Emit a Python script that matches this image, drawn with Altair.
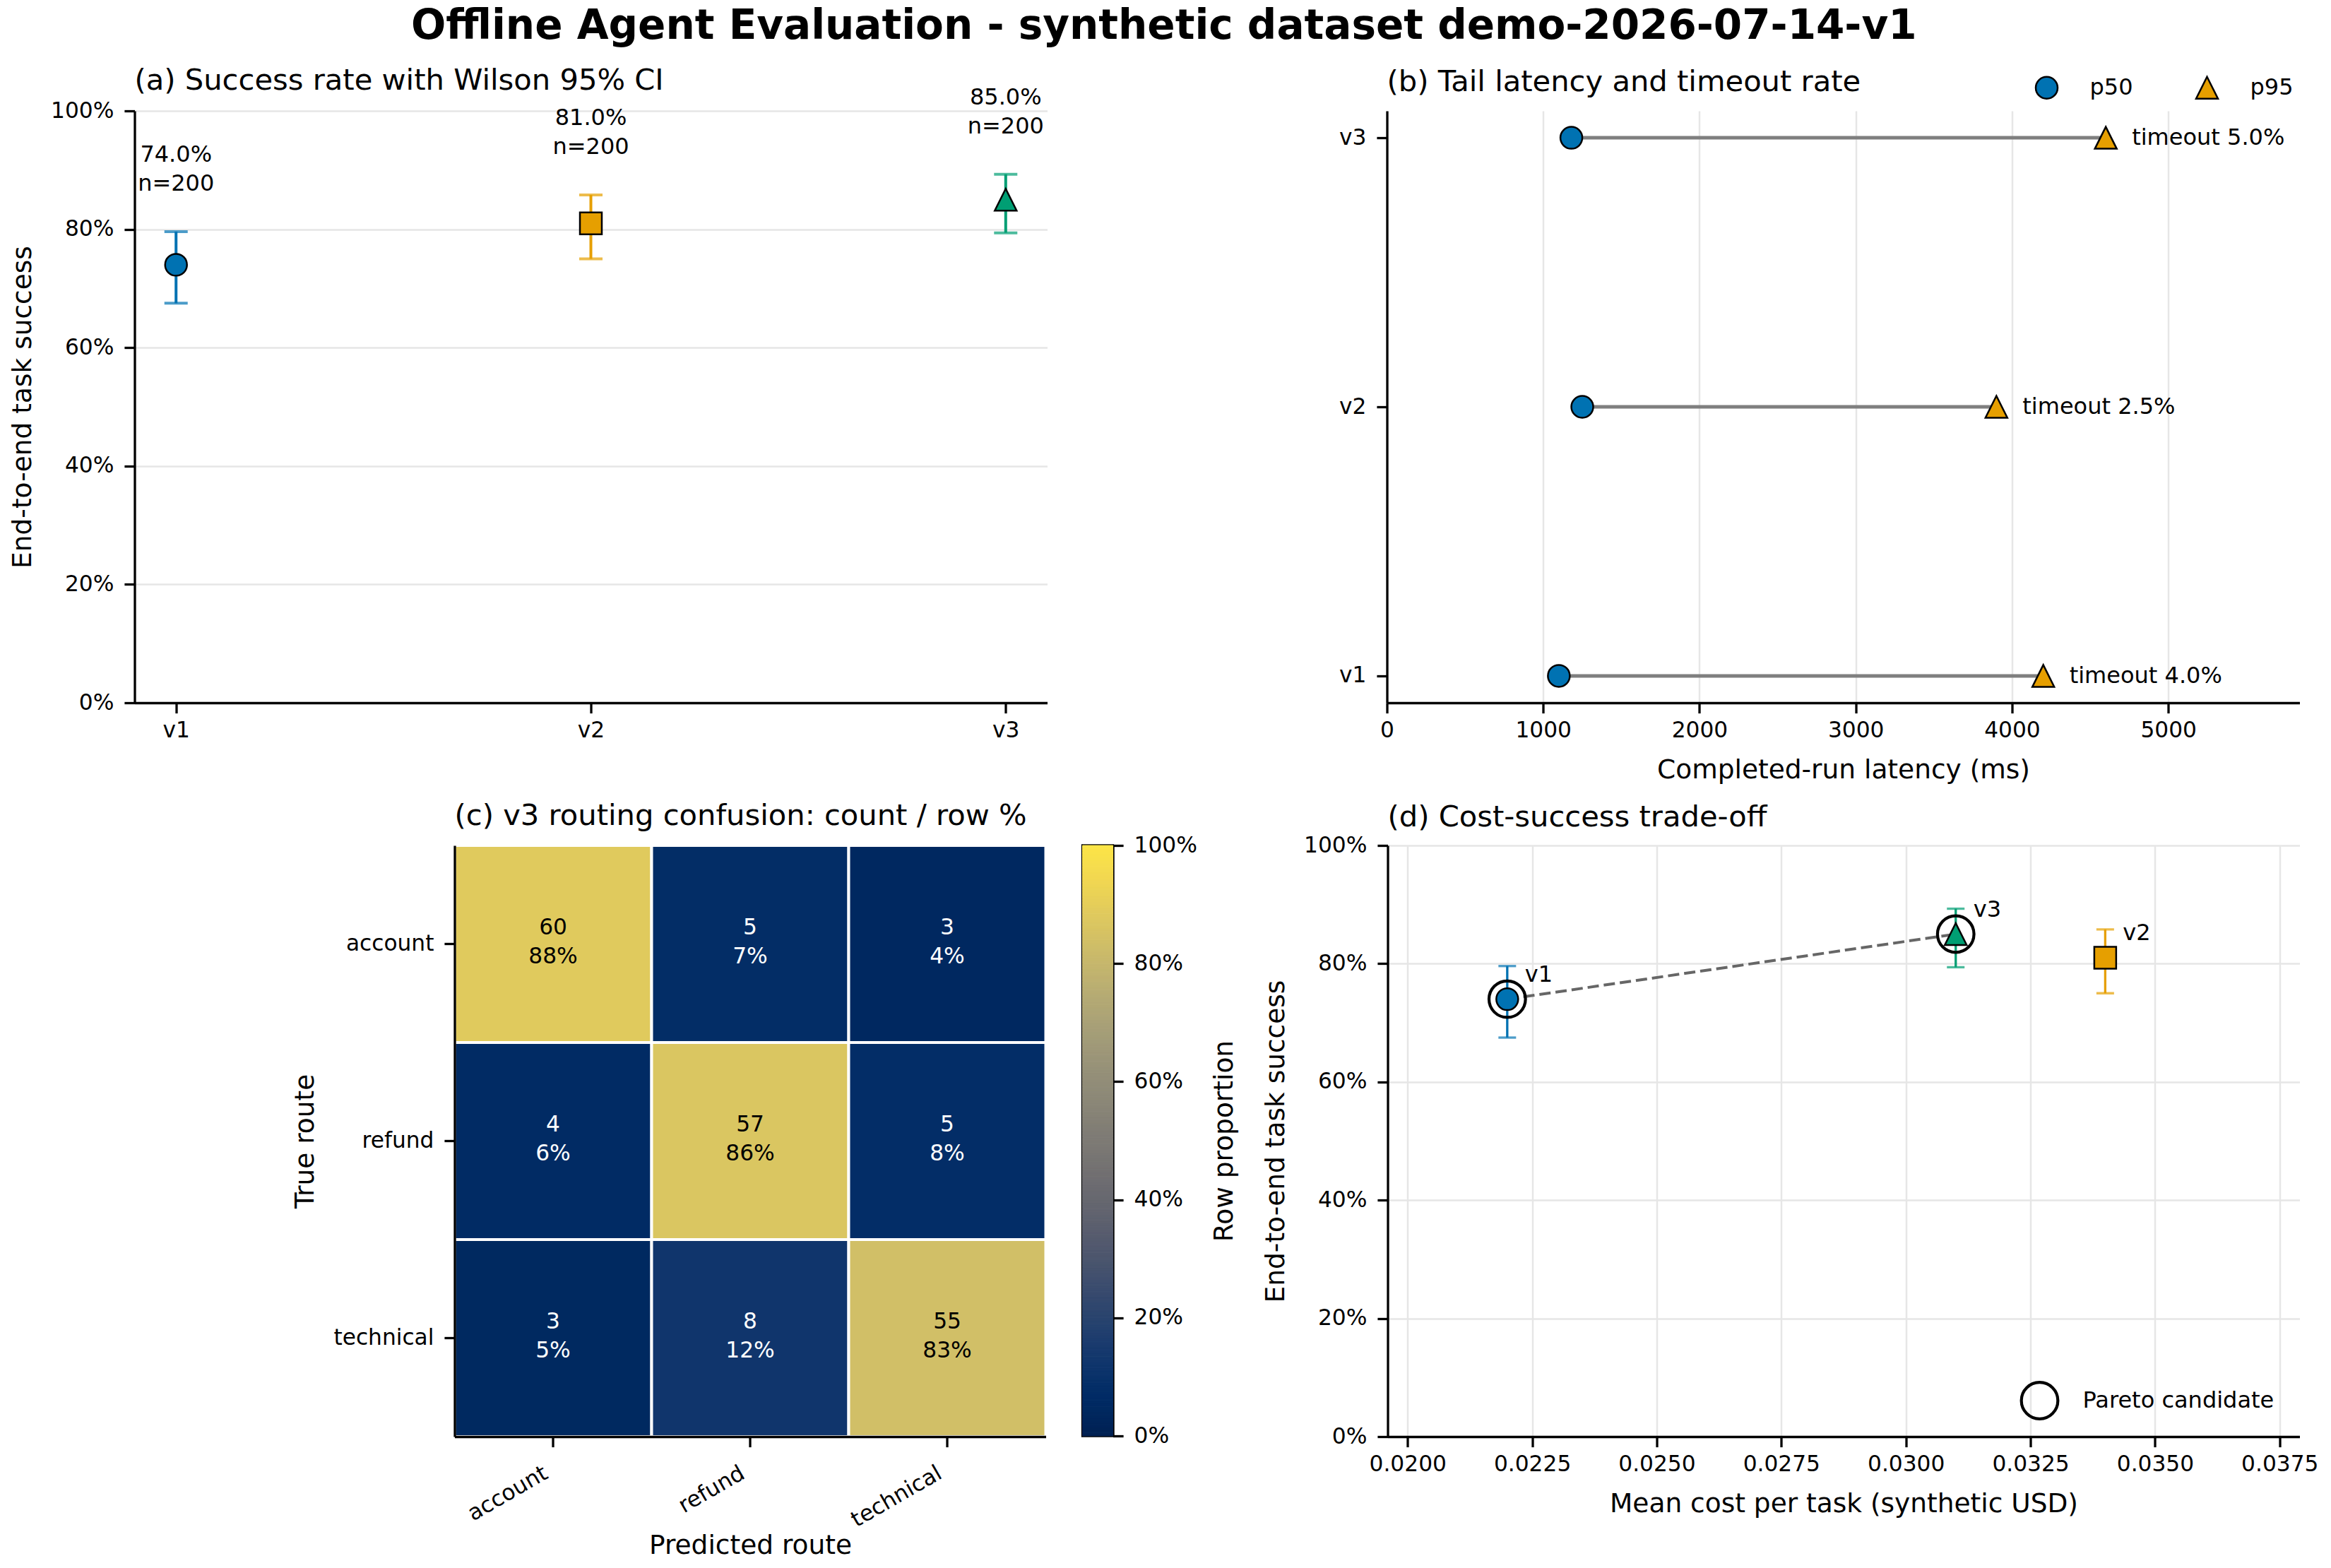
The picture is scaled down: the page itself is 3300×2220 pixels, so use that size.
import altair as alt
import pandas as pd

# ---------------- evaluation numbers ----------------
versions = ["v1", "v2", "v3"]
success_rate = [0.74, 0.81, 0.85]
n_tasks = [200, 200, 200]
wilson_low = [0.675, 0.750, 0.794]
wilson_high = [0.796, 0.858, 0.893]

latency_p50_ms = [1100, 1250, 1180]
latency_p95_ms = [4200, 3900, 4600]
timeout_rate = [0.040, 0.025, 0.050]

mean_cost_usd = [0.022, 0.034, 0.031]
pareto_candidate = [True, False, True]

routes = ["account", "refund", "technical"]
v3_confusion = [
    [60, 5, 3],
    [4, 57, 5],
    [3, 8, 55],
]

pct_ticks = [0, 0.2, 0.4, 0.6, 0.8, 1.0]
latency_ticks = [0, 1000, 2000, 3000, 4000, 5000]
cost_ticks = [0.0200, 0.0225, 0.0250, 0.0275, 0.0300, 0.0325, 0.0350, 0.0375]

# ---------------- styling ----------------
FONT = "DejaVu Sans"
TICK_PX = 31.25
ANNOT_PX = 32
AXIS_TITLE_PX = 37.5
PANEL_TITLE_PX = 41.67
SUPTITLE_PX = 58
VERSION_COLORS = ["#0072B2", "#E69F00", "#009E73"]
TRIANGLE = "M0,-1L1,1L-1,1Z"
VERSION_SHAPES = ["circle", "square", TRIANGLE]
MARKER_SIZE = 960
EDGE_W = 2.5
GRID = "#e6e6e6"
X_LABEL_PAD = 9
X_TITLE_PAD = 22

PANEL_W, PANEL_H = 1292, 838
HEAT_SIDE = 837
D_W = 1291


def panel_title(text, offset):
    return alt.TitleParams(text=text, anchor="start", frame="group", fontSize=PANEL_TITLE_PX,
                           fontWeight="normal", font=FONT, color="black", offset=offset)


def success_y(field):
    return alt.Y(f"{field}:Q", scale=alt.Scale(domain=[0, 1], nice=False),
                 axis=alt.Axis(values=pct_ticks, format=".0%", title="End-to-end task success",
                               grid=True, gridColor=GRID))


version_color = alt.Color("version:N", scale=alt.Scale(domain=versions, range=VERSION_COLORS), legend=None)
version_shape = alt.Shape("version:N", scale=alt.Scale(domain=versions, range=VERSION_SHAPES), legend=None)

runs = pd.DataFrame({
    "version": versions,
    "success": success_rate,
    "n": n_tasks,
    "wilson_low": wilson_low,
    "wilson_high": wilson_high,
    "cost": mean_cost_usd,
    "pareto": pareto_candidate,
})
runs["annotation"] = [f"{s:.1%}\nn={n}" for s, n in zip(success_rate, n_tasks)]

# ---------------- (a) success rate with Wilson interval ----------------
version_x = alt.X("version:N", scale=alt.Scale(type="point", domain=versions, padding=0.1),
                  axis=alt.Axis(title=None, labelAngle=0, grid=False, labelPadding=X_LABEL_PAD))
base_a = alt.Chart(runs)
a_whisker = base_a.mark_rule(strokeWidth=4).encode(
    x=version_x, y=success_y("wilson_low"), y2="wilson_high:Q", color=version_color)
a_cap_lo = base_a.mark_tick(orient="horizontal", size=33, thickness=4).encode(
    x=version_x, y=success_y("wilson_low"), color=version_color)
a_cap_hi = base_a.mark_tick(orient="horizontal", size=33, thickness=4).encode(
    x=version_x, y=success_y("wilson_high"), color=version_color)
a_point = base_a.mark_point(filled=True, size=MARKER_SIZE, stroke="black", strokeWidth=EDGE_W, opacity=1).encode(
    x=version_x, y=success_y("success"), color=version_color, shape=version_shape)
a_text = base_a.mark_text(lineBreak="\n", fontSize=ANNOT_PX, lineHeight=41, baseline="bottom",
                          dy=-92, color="black").encode(
    x=version_x, y=success_y("wilson_high"), text="annotation:N")
panel_a = alt.layer(a_whisker, a_cap_lo, a_cap_hi, a_point, a_text).properties(
    width=PANEL_W, height=PANEL_H,
    title=panel_title("(a) Success rate with Wilson 95% CI", -14))

# ---------------- (b) latency dumbbells ----------------
latency = pd.DataFrame({
    "version": versions,
    "p50": latency_p50_ms,
    "p95": latency_p95_ms,
    "timeout": timeout_rate,
})
latency["timeout_label"] = [f"timeout {t:.1%}" for t in timeout_rate]
latency_long = pd.DataFrame({
    "version": versions * 2,
    "stat": ["p50"] * len(versions) + ["p95"] * len(versions),
    "ms": latency_p50_ms + latency_p95_ms,
})


def latency_x(field):
    return alt.X(f"{field}:Q", scale=alt.Scale(domain=[0, 5840], nice=False),
                 axis=alt.Axis(values=latency_ticks, format="d", title="Completed-run latency (ms)",
                               grid=True, gridColor=GRID, labelFlush=False,
                               labelPadding=X_LABEL_PAD, titlePadding=X_TITLE_PAD))


version_y = alt.Y("version:N", scale=alt.Scale(type="point", domain=versions[::-1], padding=0.1),
                  axis=alt.Axis(title=None, grid=False))
stat_legend = alt.Legend(title=None, orient="none", legendX=917, legendY=-50, direction="horizontal",
                         symbolSize=MARKER_SIZE, symbolStrokeColor="black", symbolStrokeWidth=EDGE_W,
                         labelFontSize=ANNOT_PX, labelOffset=44, columnPadding=83, padding=0)
b_rule = alt.Chart(latency).mark_rule(color="#7f7f7f", strokeWidth=5).encode(
    y=version_y, x=latency_x("p50"), x2="p95:Q")
b_points = alt.Chart(latency_long).mark_point(filled=True, size=MARKER_SIZE, stroke="black",
                                              strokeWidth=EDGE_W, opacity=1).encode(
    y=version_y, x=latency_x("ms"),
    color=alt.Color("stat:N", scale=alt.Scale(domain=["p50", "p95"], range=[VERSION_COLORS[0], VERSION_COLORS[1]]),
                    legend=stat_legend),
    shape=alt.Shape("stat:N", scale=alt.Scale(domain=["p50", "p95"], range=["circle", TRIANGLE]),
                    legend=stat_legend))
b_text = alt.Chart(latency).mark_text(align="left", baseline="middle", dx=37, fontSize=ANNOT_PX,
                                      color="black").encode(
    y=version_y, x=latency_x("p95"), text="timeout_label:N")
panel_b = alt.layer(b_rule, b_points, b_text).properties(
    width=PANEL_W, height=PANEL_H,
    title=panel_title("(b) Tail latency and timeout rate", -31))

# ---------------- (c) routing confusion matrix for v3 ----------------
cells = []
for i, true_route in enumerate(routes):
    row_total = sum(v3_confusion[i])
    for j, pred_route in enumerate(routes):
        count = v3_confusion[i][j]
        share = count / row_total
        cells.append({"true": true_route, "pred": pred_route, "count": count,
                      "share": share, "label": f"{count}\n{share:.0%}"})
confusion = pd.DataFrame(cells)

pred_x = alt.X("pred:N", scale=alt.Scale(domain=routes, paddingInner=0, paddingOuter=0),
               axis=alt.Axis(title="Predicted route", labelAngle=-30, labelAlign="right",
                             labelBaseline="top", labelOffset=-18, labelPadding=21,
                             grid=False, titlePadding=2))
true_y = alt.Y("true:N", scale=alt.Scale(domain=routes, paddingInner=0, paddingOuter=0),
               axis=alt.Axis(title="True route", grid=False))
c_rect = alt.Chart(confusion).mark_rect(stroke="white", strokeWidth=4).encode(
    x=pred_x, y=true_y,
    color=alt.Color("share:Q", scale=alt.Scale(scheme="cividis", domain=[0, 1]), legend=None))
c_text = alt.Chart(confusion).mark_text(lineBreak="\n", fontSize=TICK_PX, lineHeight=41,
                                        baseline="middle", dy=-23).encode(
    x=pred_x, y=true_y, text="label:N",
    color=alt.condition("datum.share < 0.5", alt.value("white"), alt.value("black")))
panel_c = alt.layer(c_rect, c_text).properties(
    width=HEAT_SIDE, height=HEAT_SIDE,
    title=panel_title("(c) v3 routing confusion: count / row %", 18))

# colour bar for the row proportion
colorbar = alt.Chart(alt.sequence(0, 1, 0.005, as_="v")).transform_calculate(
    v_top="datum.v + 0.005").mark_rect(strokeWidth=1).encode(
    x=alt.value(0), x2=alt.value("width"),
    y=alt.Y("v:Q", scale=alt.Scale(domain=[0, 1], nice=False),
            axis=alt.Axis(orient="right", values=pct_ticks, format=".0%", title="Row proportion",
                          titleAngle=270, titleBaseline="top", grid=False)),
    y2="v_top:Q",
    color=alt.Color("v:Q", scale=alt.Scale(scheme="cividis", domain=[0, 1]), legend=None),
    stroke=alt.Stroke("v:Q", scale=alt.Scale(scheme="cividis", domain=[0, 1]), legend=None),
).properties(width=43, height=836, view=alt.ViewBackground(stroke="black", strokeWidth=3.3))

# ---------------- (d) cost vs success ----------------
cost_x = alt.X("cost:Q", scale=alt.Scale(domain=[0.0196, 0.0379], nice=False, zero=False),
               axis=alt.Axis(values=cost_ticks, format=".4f", title="Mean cost per task (synthetic USD)",
                             grid=True, gridColor=GRID, labelFlush=False,
                             labelPadding=X_LABEL_PAD, titlePadding=X_TITLE_PAD))
base_d = alt.Chart(runs)
d_front = base_d.transform_filter("datum.pareto").mark_line(
    color="#666666", strokeWidth=4, strokeDash=[16, 7]).encode(
    x=cost_x, y=success_y("success"), order="cost:Q")
d_whisker = base_d.mark_rule(strokeWidth=3.3).encode(
    x=cost_x, y=success_y("wilson_low"), y2="wilson_high:Q", color=version_color)
d_cap_lo = base_d.mark_tick(orient="horizontal", size=25, thickness=3.3).encode(
    x=cost_x, y=success_y("wilson_low"), color=version_color)
d_cap_hi = base_d.mark_tick(orient="horizontal", size=25, thickness=3.3).encode(
    x=cost_x, y=success_y("wilson_high"), color=version_color)
d_point = base_d.mark_point(filled=True, size=MARKER_SIZE, stroke="black", strokeWidth=EDGE_W, opacity=1).encode(
    x=cost_x, y=success_y("success"), color=version_color, shape=version_shape)
d_ring = base_d.transform_filter("datum.pareto").transform_calculate(
    marker="'Pareto candidate'").mark_point(filled=False, size=2670, strokeWidth=4.2, opacity=1).encode(
    x=cost_x, y=success_y("success"),
    stroke=alt.Stroke("marker:N", scale=alt.Scale(domain=["Pareto candidate"], range=["black"]),
                      legend=alt.Legend(title=None, orient="none", legendX=895, legendY=758,
                                        symbolSize=2670, symbolStrokeWidth=4.2, labelLimit=500,
                                        labelFontSize=ANNOT_PX, labelOffset=33, padding=0)))
d_label = base_d.mark_text(align="left", baseline="alphabetic", dx=25, dy=-25, fontSize=ANNOT_PX,
                           color="black").encode(
    x=cost_x, y=success_y("success"), text="version:N")
panel_d = alt.layer(d_front, d_whisker, d_cap_lo, d_cap_hi, d_point, d_ring, d_label).properties(
    width=D_W, height=HEAT_SIDE,
    title=panel_title("(d) Cost-success trade-off", 2))


# ---------------- layout ----------------
def spacer(w, h):
    return alt.Chart(pd.DataFrame({"s": [0]})).mark_point(opacity=0, size=1).encode(
        x=alt.value(0), y=alt.value(0)).properties(width=w, height=h)


INDEP = dict(color="independent", shape="independent", stroke="independent")

top_row = alt.hconcat(panel_a, panel_b, spacing=481, bounds="flush").resolve_scale(**INDEP)
bottom_row = alt.hconcat(
    spacer(401, HEAT_SIDE), panel_c, colorbar, spacer(285, HEAT_SIDE), panel_d,
    spacing=52, bounds="flush").resolve_scale(**INDEP)

grid = alt.vconcat(
    top_row, bottom_row, spacing=1040, bounds="flush",
    title=alt.TitleParams(text="Offline Agent Evaluation - synthetic dataset demo-2026-07-14-v1",
                          anchor="middle", fontSize=SUPTITLE_PX, fontWeight="bold", font=FONT,
                          color="black", offset=27),
).resolve_scale(**INDEP).properties(padding={"left": 13.5, "top": 8, "right": 0, "bottom": 0},
                                    background="white")

chart = grid.configure(font=FONT).configure_view(strokeWidth=0).configure_axis(
    labelFont=FONT, titleFont=FONT, labelFontSize=TICK_PX, titleFontSize=AXIS_TITLE_PX,
    titleFontWeight="normal", labelColor="black", titleColor="black",
    domainColor="black", domainWidth=3.3, tickColor="black", tickWidth=3.3, tickSize=14.6,
    labelPadding=15, titlePadding=20, gridWidth=2.5, labelOverlap=False,
).configure_legend(labelFont=FONT, labelColor="black")

chart.save("out.html", embed_options={"renderer": "svg", "actions": False})
